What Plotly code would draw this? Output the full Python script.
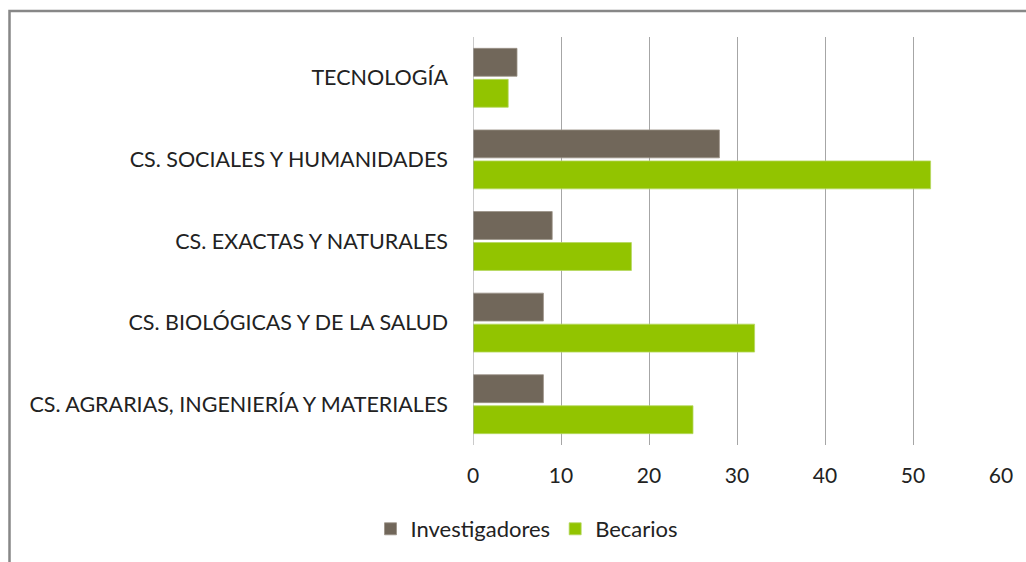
import plotly.graph_objects as go

categories = [
    "CS. AGRARIAS, INGENIERÍA Y MATERIALES",
    "CS. BIOLÓGICAS Y DE LA SALUD",
    "CS. EXACTAS Y NATURALES",
    "CS. SOCIALES Y HUMANIDADES",
    "TECNOLOGÍA",
]
investigadores = [8, 8, 9, 28, 5]
becarios = [25, 32, 18, 52, 4]
x_ticks = [0, 10, 20, 30, 40, 50, 60]

W, H = 1026, 562
L, R, T, B = 473, 25, 37, 117
pw, ph = W - L - R, H - T - B

def px_x(x):
    return (x - L) / pw

def px_y(y):
    return (H - B - y) / ph

font_family = "Lato, 'Open Sans', sans-serif"

fig = go.Figure()
fig.add_trace(go.Bar(
    y=categories, x=becarios, name="Becarios", orientation="h",
    marker=dict(color="#92C400", line=dict(color="#B5D860", width=0.8)),
))
fig.add_trace(go.Bar(
    y=categories, x=investigadores, name="Investigadores", orientation="h",
    marker=dict(color="#71675A", line=dict(color="#9A9286", width=0.8)),
))

fig.update_layout(
    width=W, height=H,
    margin=dict(l=L, r=R, t=T, b=B),
    paper_bgcolor="white", plot_bgcolor="white",
    barmode="group", bargap=0.24, bargroupgap=0.1,
    font=dict(family=font_family, size=21, color="#222222"),
    showlegend=True,
    legend=dict(
        orientation="h", traceorder="reversed",
        x=px_x(527), xanchor="center",
        y=px_y(529), yanchor="middle",
        font=dict(size=22, color="#222222"),
        itemwidth=30,
    ),
    xaxis=dict(
        range=[0, 60], tickvals=x_ticks, ticktext=[str(v) for v in x_ticks],
        showgrid=True, gridcolor="#A6A6A6", gridwidth=1,
        zeroline=False, showline=False, ticks="",
        ticklabelstandoff=16,
        tickfont=dict(size=21),
        fixedrange=True,
    ),
    yaxis=dict(
        categoryorder="array", categoryarray=categories,
        showgrid=False, zeroline=False, showline=False, ticks="",
        ticklabelstandoff=24,
        tickfont=dict(size=21.5),
        fixedrange=True,
    ),
    shapes=[
        dict(type="line", xref="x", yref="paper", x0=0, x1=0, y0=0, y1=1,
             line=dict(color="#A6A6A6", width=1.2), layer="above"),
        dict(type="rect", xref="paper", yref="paper",
             x0=px_x(9.5), x1=px_x(1040), y0=px_y(580), y1=px_y(11),
             line=dict(color="#878787", width=2.5), layer="below"),
    ],
)

fig.write_html(
    "out.html",
    config={"displayModeBar": False},
    post_script="document.body.style.margin='0';document.body.style.padding='0';document.body.style.overflow='hidden';",
)
